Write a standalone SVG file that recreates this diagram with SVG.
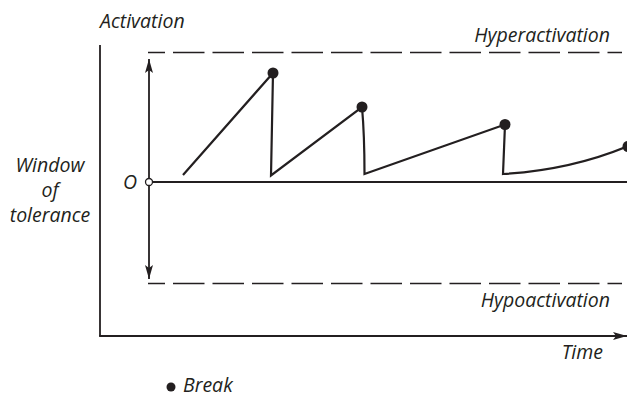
<svg xmlns="http://www.w3.org/2000/svg" width="627" height="396" viewBox="0 0 627 396">
  <style>
    .t { font-family: "Open Sans", "Noto Sans", "Liberation Sans", sans-serif; font-style: italic; font-size: 19.5px; fill: #231f20; }
    .axis { stroke: #231f20; stroke-width: 1.8; fill: none; }
    .dash { stroke: #231f20; stroke-width: 1.5; fill: none; stroke-dasharray: 31.5 8; stroke-dashoffset: 14.5; }
    .saw { stroke: #231f20; stroke-width: 2.2; fill: none; stroke-linejoin: miter; }
    .dot { fill: #231f20; }
  </style>
  <defs>
    <marker id="arr" viewBox="0 0 14 10" refX="14" refY="5" markerWidth="14" markerHeight="10" markerUnits="userSpaceOnUse" orient="auto-start-reverse">
      <path d="M0,1 L14,5 L0,9 L3,5 Z" fill="#231f20"/>
    </marker>
  </defs>

  <g id="axes">
    <line class="axis" x1="100" y1="45" x2="100" y2="336"/>
    <line class="axis" x1="99.1" y1="336" x2="627" y2="336" marker-end="url(#arr)"/>
  </g>

  <g id="limits">
    <line class="dash" x1="148" y1="52.5" x2="622" y2="52.5"/>
    <line class="dash" x1="148" y1="283.5" x2="622" y2="283.5"/>
  </g>

  <g id="connectors">
    <line class="axis" stroke-width="1.5" x1="149" y1="59" x2="149" y2="279" marker-start="url(#arr)" marker-end="url(#arr)"/>
    <line class="axis" stroke-width="1.8" x1="152.5" y1="182" x2="627" y2="182"/>
    <path class="saw" d="M183,175 L273,73 L271,175.5 L362,107 Q364.5,135 364.5,174 L505,124.5 L503,174 Q570,170 627,146.5"/>
  </g>

  <g id="breaks">
    <circle class="dot" cx="273" cy="73" r="5.5"/>
    <circle class="dot" cx="362" cy="107" r="5.5"/>
    <circle class="dot" cx="505" cy="124.5" r="5.5"/>
    <circle class="dot" cx="628" cy="146.5" r="5.5"/>
  </g>

  <g id="origin">
    <circle cx="149" cy="182" r="3.5" fill="#ffffff" stroke="#231f20" stroke-width="1.3"/>
    <text class="t" x="130" y="189" text-anchor="middle">O</text>
  </g>

  <g id="labels">
    <text class="t" x="100" y="28">Activation</text>
    <text class="t" x="610" y="41.5" text-anchor="end">Hyperactivation</text>
    <text class="t" x="610" y="306.5" text-anchor="end">Hypoactivation</text>
    <text class="t" x="603" y="358.5" text-anchor="end">Time</text>
    <text class="t" x="50" y="171.5" text-anchor="middle">Window</text>
    <text class="t" x="50" y="196.5" text-anchor="middle">of</text>
    <text class="t" x="50" y="221.5" text-anchor="middle">tolerance</text>
  </g>

  <g id="legend">
    <circle class="dot" cx="171" cy="387" r="4.5"/>
    <text class="t" x="183" y="391.5">Break</text>
  </g>
</svg>
